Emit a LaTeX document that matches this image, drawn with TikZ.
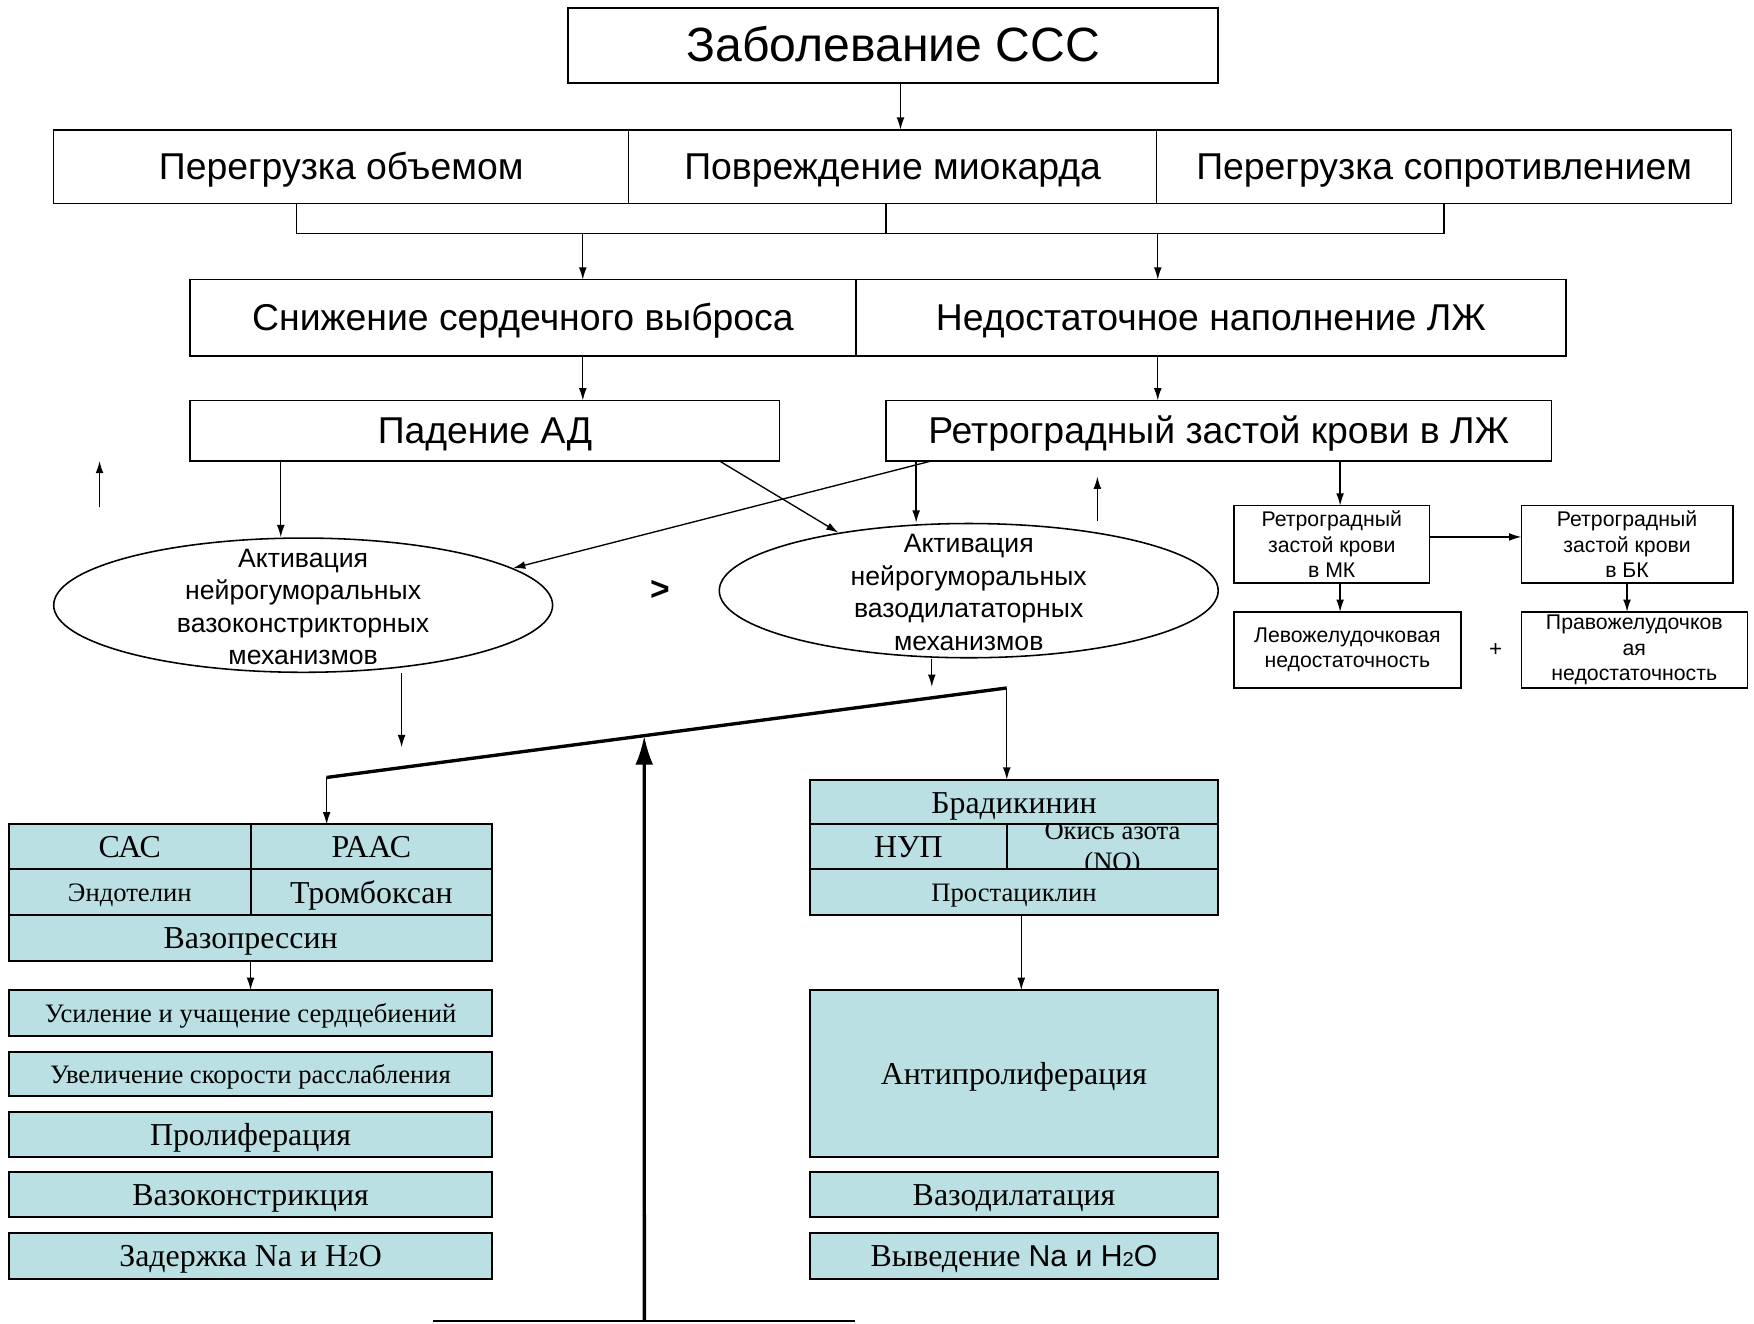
\documentclass[tikz,border=0pt]{standalone}
\usepackage{fontspec}
\setmainfont{Liberation Serif}
\setsansfont{Liberation Sans}
\usetikzlibrary{arrows.meta,calc,shapes.geometric}
\definecolor{tbl}{RGB}{187,224,227}
\newcommand{\fsz}[2]{\fontsize{#1}{#2}\selectfont}
\tikzset{
 bx/.style={draw, line width=1.4pt, inner sep=0pt, outer sep=0pt, align=center},
 tb/.style={bx, fill=tbl, line width=1.8pt},
 arr/.style={-{Latex[length=11pt,width=7pt]}, line width=1.2pt},
 ln/.style={line width=1.2pt},
 big/.style={text height=26.7pt, text depth=3.7pt, font=\sffamily\fsz{33.4}{40}},
 ellt/.style={align=center, font=\sffamily\fsz{23.8}{29}},
 smt/.style={font=\sffamily\fsz{19}{22.5}},
 tt/.style={text height=22.8pt, text depth=3.1pt, font=\rmfamily\fsz{28.5}{32}},
 ts/.style={text height=19pt, text depth=2.6pt, font=\rmfamily\fsz{23.8}{27}},
}
\begin{document}
\begin{tikzpicture}[x=1pt,y=-1pt]
\useasboundingbox (0,0) rectangle (1568,1183);
% top rows
\node[bx, text height=34.4pt, text depth=4.7pt, minimum width=581pt, minimum height=67pt, font=\sffamily\fsz{43}{50}] (title) at (798.5,40.5) {Заболевание ССС};
\node[bx, big, minimum width=514pt, minimum height=66pt] (p1) at (305,149) {Перегрузка объемом};
\node[bx, big, minimum width=472pt, minimum height=66pt] (p2) at (798,149) {Повреждение миокарда};
\node[bx, big, minimum width=514pt, minimum height=66pt] (p3) at (1291,149) {Перегрузка сопротивлением};
\node[bx, big, minimum width=595pt, minimum height=68pt] (s1) at (467.5,284) {Снижение сердечного выброса};
\node[bx, big, minimum width=635pt, minimum height=68pt] (s2) at (1082.5,284) {Недостаточное наполнение ЛЖ};
\node[bx, big, minimum width=527pt, minimum height=54pt] (ad) at (433.5,385) {Падение АД};
\node[bx, big, minimum width=595pt, minimum height=54pt] (rz) at (1089.5,385) {Ретроградный застой крови в ЛЖ};
% ellipses
\node[draw, ellipse, line width=1.4pt, inner sep=0pt, minimum width=446pt, minimum height=120pt] (ell1) at (271,541) {};
\node[ellt] (ell1t) at (271,542.5) {Активация\\нейрогуморальных\\вазоконстрикторных\\механизмов};
\node[draw, ellipse, line width=1.4pt, inner sep=0pt, minimum width=446pt, minimum height=120pt] (ell2) at (866,528) {};
\node[ellt] (ell2t) at (866,529.5) {Активация\\нейрогуморальных\\вазодилататорных\\механизмов};
\node[font=\sffamily\bfseries\fsz{30}{36}] (gt) at (590,528) {>};
% small right boxes
\node[bx, smt, minimum width=175pt, minimum height=69pt] (mk) at (1190.5,486.5) {Ретроградный\\застой крови\\в МК};
\node[bx, smt, minimum width=189pt, minimum height=69pt] (bk) at (1454.5,486.5) {Ретроградный\\застой крови\\в БК};
\node[bx, smt, minimum width=203pt, minimum height=68pt] (lzh) at (1204.5,581) {Левожелудочковая\\недостаточность};
\node[bx, smt, minimum width=202pt, minimum height=68pt] (pzh) at (1461,581) {Правожелудочков\\ая\\недостаточность};
\node[font=\sffamily\fsz{20}{24}] (plus) at (1337,581) {+};
% left table
\node[tb, tt, minimum width=216pt, minimum height=40pt] (sac) at (116,757) {САС};
\node[tb, tt, minimum width=216pt, minimum height=40pt] (raas) at (332,757) {РААС};
\node[tb, ts, minimum width=216pt, minimum height=41pt] (endo) at (116,797.5) {Эндотелин};
\node[tb, tt, minimum width=216pt, minimum height=41pt] (tromb) at (332,797.5) {Тромбоксан};
\node[tb, tt, minimum width=432pt, minimum height=41pt] (vazop) at (224,838.5) {Вазопрессин};
\node[tb, ts, minimum width=432pt, minimum height=41pt] (e1) at (224,905.5) {Усиление и учащение сердцебиений};
\node[tb, ts, minimum width=432pt, minimum height=40pt] (e2) at (224,960) {Увеличение скорости расслабления};
\node[tb, tt, minimum width=432pt, minimum height=40pt] (e3) at (224,1014) {Пролиферация};
\node[tb, tt, minimum width=432pt, minimum height=40pt] (e4) at (224,1068) {Вазоконстрикция};
\node[tb, tt, minimum width=432pt, minimum height=41pt] (e5) at (224,1122.5) {Задержка Na и H{\fsz{19}{20}2}O};
% right table
\node[tb, tt, minimum width=365pt, minimum height=40pt] (brad) at (906.5,717) {Брадикинин};
\node[tb, tt, minimum width=176pt, minimum height=40pt] (nup) at (812,757) {НУП};
\node[tb, minimum width=189pt, minimum height=40pt] (no) at (994.5,757) {};
\begin{scope}
\clip (no.south west) rectangle (no.north east);
\node[align=center, font=\rmfamily\fsz{23.8}{27}] (not) at (994.5,759) {Окись азота\\(NO)};
\end{scope}
\draw[line width=1.8pt] (no.south west) rectangle (no.north east);
\node[tb, ts, minimum width=365pt, minimum height=41pt] (prost) at (906.5,797.5) {Простациклин};
\node[tb, tt, minimum width=365pt, minimum height=149pt] (anti) at (906.5,959.5) {Антипролиферация};
\node[tb, tt, minimum width=365pt, minimum height=40pt] (vd) at (906.5,1068) {Вазодилатация};
\node[tb, tt, minimum width=365pt, minimum height=41pt] (vyv) at (906.5,1122.5) {Выведение {\sffamily\fsz{27}{30}Na и H{\fsz{18}{20}2}O}};
% connectors top
\draw[arr] ([xshift=6.5pt]title.south) -- ([xshift=6.5pt]title.south |- p2.north);
\coordinate (bl) at (265,209);
\coordinate (bm) at (792,209);
\coordinate (br) at (1291,209);
\draw[ln] (p1.south -| bl) -- (bl) -- (br) -- (p3.south);
\draw[ln] (p2.south -| bm) -- (bm);
\coordinate (a1) at (521,209);
\coordinate (a2) at (1035,209);
\draw[arr] (a1) -- (a1 |- s1.north);
\draw[arr] (a2) -- (a2 |- s2.north);
\draw[arr] (a1 |- s1.south) -- (a1 |- ad.north);
\draw[arr] (a2 |- s2.south) -- (a2 |- rz.north);
% connectors to ellipses
\coordinate (c251) at (251,0);
\coordinate (c819) at (819,0);
\coordinate (c1198) at (1198,0);
\draw[arr] (ad.south -| c251) -- (ell1.north -| c251);
\draw[arr] ([xshift=-54pt]ad.south east) -- (ell2.156);
\draw[arr] ([xshift=41pt]rz.south west) -- (ell1.10);
\draw[arr] (rz.south -| c819) -- (ell2.north -| c819);
\draw[arr] (rz.south -| c1198) -- (mk.north -| c1198);
\draw[arr] ([yshift=6.5pt]mk.east) -- ([yshift=6.5pt]bk.west);
\draw[arr] (mk.south -| c1198) -- (lzh.north -| c1198);
\draw[arr] (bk.south) -- (bk.south |- pzh.north);
% free up arrows
\coordinate (u1a) at (89,453);
\coordinate (u1b) at (89,412);
\draw[arr] (u1a) -- (u1b);
\coordinate (u2a) at (981,466);
\coordinate (u2b) at (981,426);
\draw[arr] (u2a) -- (u2b);
% ellipse outputs
\coordinate (f1) at (359,668);
\draw[arr] (ell1.south -| f1) -- (f1);
\coordinate (f2) at (833,614);
\draw[arr] (ell2.south -| f2) -- (f2);
% balance beam
\coordinate (tl) at (292,695);
\coordinate (tr) at (900,615);
\draw[line width=3pt] (tl) -- (tr);
\draw[arr] (tr) -- (tr |- brad.north);
\draw[arr] (tl) -- (tl |- raas.north);
\coordinate (bb) at (576,1181);
\coordinate (bt) at ($(tl)!0.467!(tr)$);
\draw[-{Latex[length=26pt,width=16pt]}, line width=3pt] (bb) -- (bt);
\coordinate (hl) at (387,1181);
\coordinate (hr) at (764,1181);
\draw[line width=2pt] (hl) -- (hr);
% table arrows
\draw[arr] (vazop.south) -- (e1.north);
\coordinate (c913) at (913,0);
\draw[arr] (prost.south -| c913) -- (anti.north -| c913);
\end{tikzpicture}
\end{document}
